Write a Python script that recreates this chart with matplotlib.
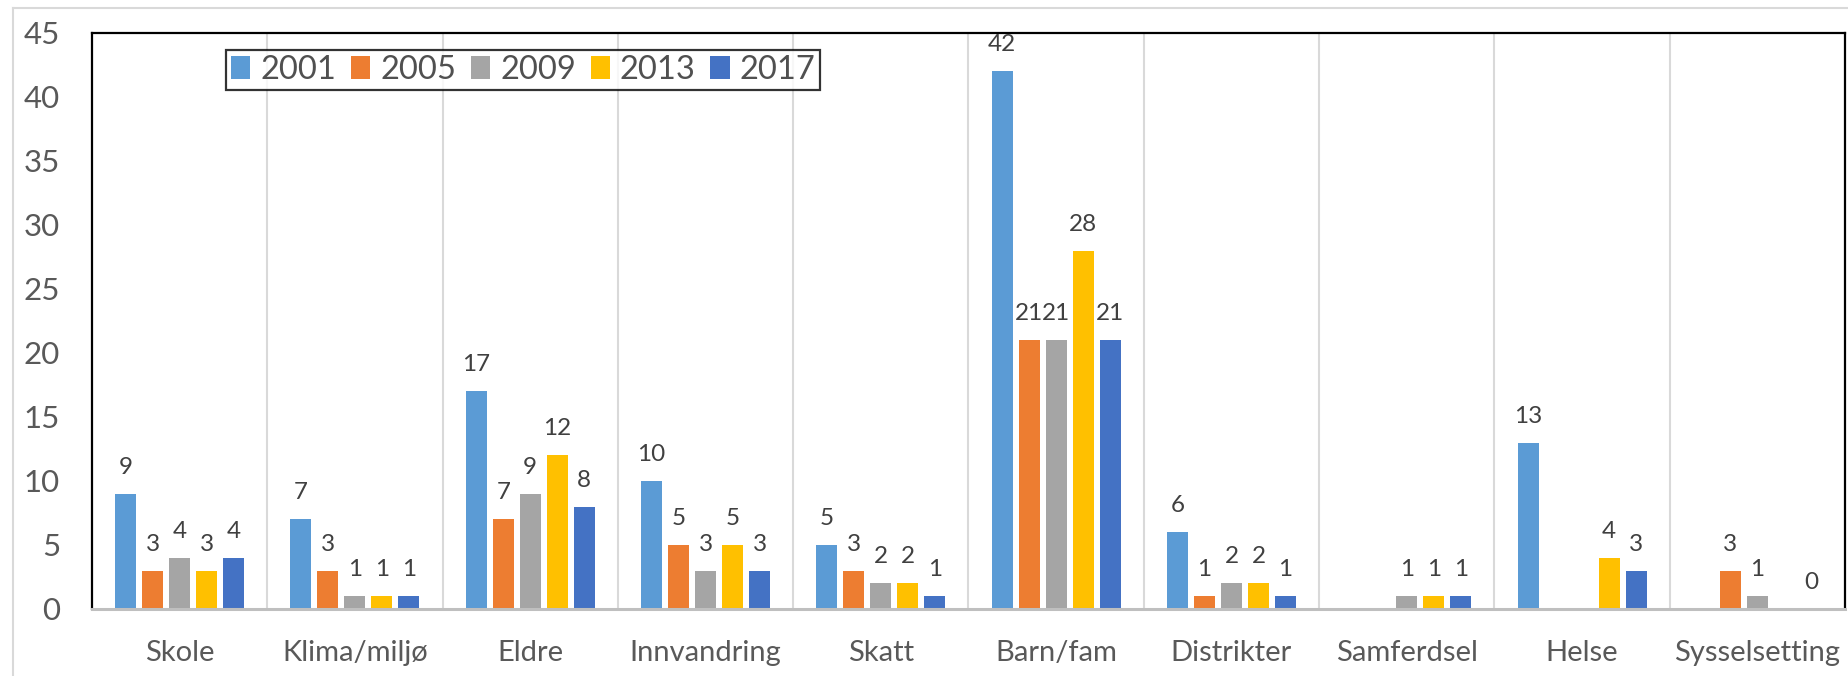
import numpy as np
import matplotlib
matplotlib.use("Agg")
import matplotlib.pyplot as plt
from matplotlib.lines import Line2D

plt.rcParams['font.family'] = ['Lato', 'DejaVu Sans']

categories = ['Skole', 'Klima/miljø', 'Eldre', 'Innvandring', 'Skatt',
              'Barn/fam', 'Distrikter', 'Samferdsel', 'Helse', 'Sysselsetting']
years = ['2001', '2005', '2009', '2013', '2017']
nan = np.nan
v2001 = [9, 7, 17, 10, 5, 42, 6, nan, 13, nan]
v2005 = [3, 3, 7, 5, 3, 21, 1, nan, nan, 3]
v2009 = [4, 1, 9, 3, 2, 21, 2, 1, nan, 1]
v2013 = [3, 1, 12, 5, 2, 28, 2, 1, 4, nan]
v2017 = [4, 1, 8, 3, 1, 21, 1, 1, 3, 0]
series = [v2001, v2005, v2009, v2013, v2017]
colors = ['#5B9BD5', '#ED7D31', '#A5A5A5', '#FFC000', '#4472C4']

fig = plt.figure(figsize=(18.49, 6.76), dpi=100)
ax = fig.add_axes([92 / 1849, 1 - 609 / 676, 1753 / 1849, 576 / 676])

x = np.arange(len(categories))
width = 0.12
pitch = 0.154
for i, (vals, col, yr) in enumerate(zip(series, colors, years)):
    pos = x + (i - 2) * pitch
    arr = np.array(vals, dtype=float)
    ax.bar(pos, arr, width, color=col, label=yr, zorder=3)
    for p, v in zip(pos, arr):
        if not np.isnan(v):
            ax.annotate(f'{int(v)}', (p, v), xytext=(0, 11.5), textcoords='offset points',
                        ha='center', va='bottom', fontsize=17.5, color='#404040')

ax.set_xlim(-0.5, len(categories) - 0.5)
ax.set_ylim(0, 45)
ax.set_yticks(range(0, 46, 5))
ax.set_xticks(x)
ax.set_xticklabels(categories)
ax.tick_params(axis='y', length=0, pad=23, labelsize=22.5, labelcolor='#595959')
ax.tick_params(axis='x', length=0, pad=22, labelsize=21, labelcolor='#595959')

for b in np.arange(0.5, len(categories) - 1, 1):
    ax.axvline(b, color='#D9D9D9', lw=1.5, zorder=1)

for side in ['left', 'top', 'right']:
    ax.spines[side].set_color('black')
    ax.spines[side].set_linewidth(1.6)
ax.spines['bottom'].set_color('#BFBFBF')
ax.spines['bottom'].set_linewidth(2.2)
ax.spines['bottom'].set_zorder(4)

leg = ax.legend(loc='upper left', bbox_to_anchor=(0.0764, 0.9705), ncol=5,
                fontsize=23.5, frameon=True, fancybox=False, borderaxespad=0,
                handlelength=0.6, handleheight=0.7, handletextpad=0.3,
                columnspacing=0.45, borderpad=0.15, labelcolor='#505050')
leg.get_frame().set_edgecolor('black')
leg.get_frame().set_linewidth(1.6)

# outer chart border
fig.add_artist(Line2D([13 / 1849, 13 / 1849], [0, 1 - 8 / 676], color='#D9D9D9', lw=1.5))
fig.add_artist(Line2D([13 / 1849, 1], [1 - 8 / 676, 1 - 8 / 676], color='#D9D9D9', lw=1.5))

fig.savefig('out.png', dpi=100)
